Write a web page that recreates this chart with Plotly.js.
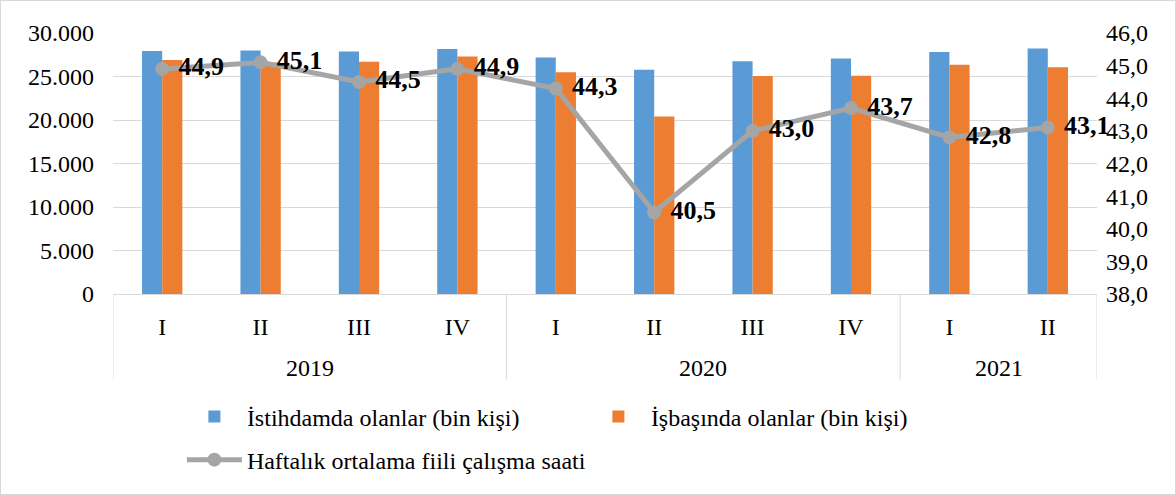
<!DOCTYPE html>
<html>
<head>
<meta charset="utf-8">
<script src="https://cdn.plot.ly/plotly-3.0.1.min.js"></script>
<style>
  html, body { margin: 0; padding: 0; background: #fff; }
  #chart { width: 1174px; height: 493px; border: 1px solid #d9d9d9; }
</style>
</head>
<body>
<div id="chart"></div>
<script>
const years = ['2019','2019','2019','2019','2020','2020','2020','2020','2021','2021'];
const quarters = ['I','II','III','IV','I','II','III','IV','I','II'];
const employed = [27930, 28000, 27880, 28150, 27190, 25770, 26740, 27070, 27820, 28210];
const atWork = [26900, 26600, 26700, 27300, 25500, 20400, 25050, 25100, 26350, 26050];
const hours = [44.9, 45.1, 44.5, 44.9, 44.3, 40.5, 43.0, 43.7, 42.8, 43.1];
const seriesNames = ['İstihdamda olanlar (bin kişi)', 'İşbaşında olanlar (bin kişi)', 'Haftalık ortalama fiili çalışma saati'];

const FONT = 'Liberation Serif';
const FS = 24;
const xKeys = years.map((y, i) => y + ' ' + quarters[i]);

const traces = [
  { type: 'bar', name: seriesNames[0], x: xKeys, y: employed, marker: { color: '#5B9BD5' }, legend: 'legend' },
  { type: 'bar', name: seriesNames[1], x: xKeys, y: atWork, marker: { color: '#ED7D31' }, legend: 'legend' },
  { type: 'scatter', mode: 'lines+markers+text', name: seriesNames[2], x: xKeys, y: hours, yaxis: 'y2',
    legend: 'legend2',
    line: { color: '#A5A5A5', width: 5 }, marker: { color: '#A5A5A5', size: 14 },
    text: hours.map(v => '\u00a0' + v.toFixed(1).replace('.', ',')),
    textposition: 'middle right',
    textfont: { family: FONT, size: 26, color: '#000', weight: 'bold' },
    cliponaxis: false }
];

// year group labels and dividers, derived from the category arrays
const groups = [];
years.forEach((y, i) => {
  const g = groups[groups.length - 1];
  if (g && g.year === y) g.last = i; else groups.push({ year: y, first: i, last: i });
});
const annotations = groups.map(g => ({
  text: g.year, x: (g.first + g.last) / 2, xref: 'x', y: -0.285, yref: 'paper',
  yanchor: 'middle', xanchor: 'center', showarrow: false,
  font: { family: FONT, size: FS, color: '#000' }
}));
const dividerPos = [groups[0].first - 0.5].concat(groups.map(g => g.last + 0.5));
const shapes = dividerPos.map(p => ({
  type: 'line', xref: 'x', yref: 'paper', x0: p, x1: p, y0: 0, y1: -0.327,
  line: { color: '#d9d9d9', width: 1 }
}));

const legendFont = { family: FONT, size: FS, color: '#000' };
const layout = {
  width: 1174, height: 493,
  margin: { l: 112, r: 78, t: 32, b: 195 },
  paper_bgcolor: '#fff', plot_bgcolor: '#fff',
  separators: ',.',
  font: { family: FONT, size: FS, color: '#000' },
  barmode: 'group', bargap: 0.59, bargroupgap: 0,
  showlegend: true,
  legend: { orientation: 'h', x: 0.07, xanchor: 'left', y: -0.385, yanchor: 'top',
            entrywidth: 334, entrywidthmode: 'pixels', itemwidth: 55,
            font: legendFont, traceorder: 'normal', bgcolor: 'rgba(0,0,0,0)' },
  legend2: { orientation: 'h', x: 0.07, xanchor: 'left', y: -0.55, yanchor: 'top',
             itemwidth: 55, font: legendFont, bgcolor: 'rgba(0,0,0,0)' },
  annotations: annotations,
  shapes: shapes,
  xaxis: { type: 'category', range: [-0.5, years.length - 0.5], tickvals: xKeys, ticktext: quarters,
           showline: true, linecolor: '#d9d9d9', linewidth: 1, automargin: false,
           ticks: 'outside', ticklen: 11, tickcolor: 'rgba(0,0,0,0)',
           tickfont: { family: FONT, size: FS, color: '#000' }, showgrid: false },
  yaxis: { range: [0, 30000], dtick: 5000, tickformat: ',.0f', showgrid: true, gridcolor: '#d9d9d9',
           gridwidth: 1, zeroline: false, showline: false, ticks: '', automargin: false,
           ticklabelstandoff: 18,
           tickfont: { family: FONT, size: FS, color: '#000' } },
  yaxis2: { overlaying: 'y', side: 'right', range: [38, 46], dtick: 1, tickformat: '.1f',
            showgrid: false, zeroline: false, showline: false, ticks: '', automargin: false,
            ticklabelstandoff: 8,
            tickfont: { family: FONT, size: FS, color: '#000' } }
};

Plotly.newPlot('chart', traces, layout, { displayModeBar: false, staticPlot: true });
</script>
</body>
</html>
